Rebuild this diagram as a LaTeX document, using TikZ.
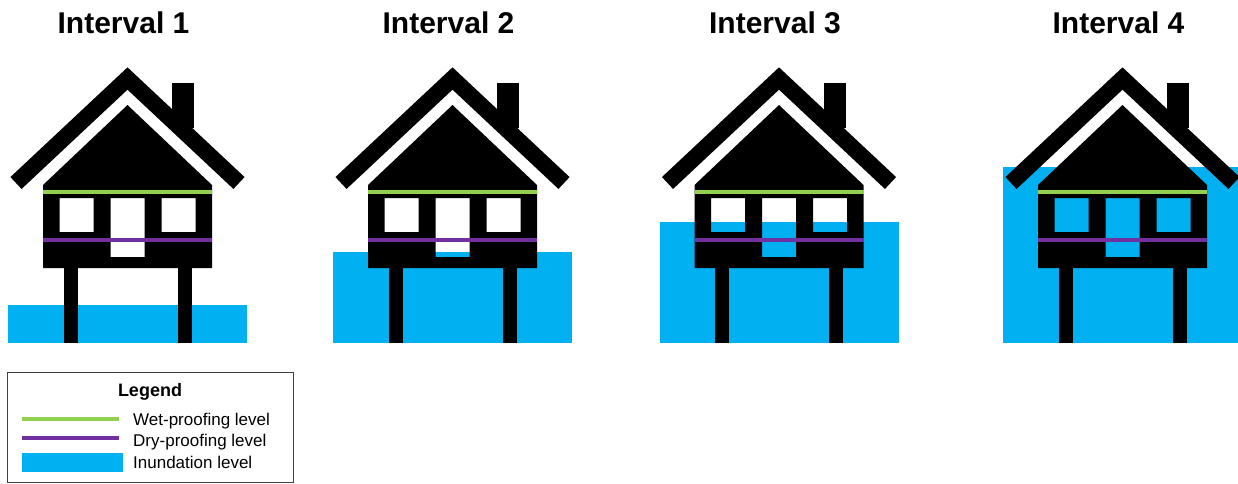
\documentclass[tikz,border=0pt]{standalone}
\usepackage{fontspec}
\setmainfont{Liberation Sans}
\definecolor{wetgreen}{HTML}{92D050}
\definecolor{drypurple}{HTML}{7030A0}
\definecolor{floodblue}{HTML}{00B0F0}

\begin{document}
\begin{tikzpicture}[x=1pt, y=-1pt, line join=miter,
  title/.style={font=\bfseries\fontsize{30}{36}\selectfont, anchor=base, inner sep=0pt},
  entry/.style={font=\fontsize{17}{20}\selectfont, anchor=base west, inner sep=0pt},
  level/.style={line width=4.5pt}]
\clip (0,0) rectangle (1238,483);
% one stilt house per interval: centre, water top, number
\foreach \cx/\wl/\n in {127.5/305/1, 452.5/252/2, 779/222/3, 1122.5/167/4} {
  % heading
  \node[title] (title\n) at (\cx-4,33) {Interval \n};
  % water sits behind the house
  \fill[floodblue] (\cx-119.5,\wl) rectangle (\cx+119.5,343);
  % chimney and roof
  \fill (\cx+44.5,83) rectangle (\cx+66.5,128);
  \draw[line width=16.3pt] (\cx-111.5,183) -- (\cx,78.5) -- (\cx+111.5,183);
  % body, windows and door left open
  \fill[even odd rule] (\cx-84.5,268) -- (\cx-84.5,185) -- (\cx,105) -- (\cx+84.5,185) -- (\cx+84.5,268) -- cycle
    (\cx-68,198) rectangle (\cx-34,232)
    (\cx-17,198) rectangle (\cx+17,257)
    (\cx+34,198) rectangle (\cx+68,232);
  % stilts
  \fill (\cx-64,268) rectangle (\cx-50,343);
  \fill (\cx+50,268) rectangle (\cx+64,343);
  % proofing levels
  \draw[level, wetgreen] (\cx-84.5,192) -- (\cx+84.5,192);
  \draw[level, drypurple] (\cx-84.5,240) -- (\cx+84.5,240);
}
% legend
\draw[black!75, line width=0.8pt] (7,372) rectangle (293,482);
\node[font=\bfseries\fontsize{18}{22}\selectfont, anchor=base, inner sep=0pt] (legend) at (150,396) {Legend};
\draw[wetgreen, line width=4pt] (22,419) -- (119,419);
\node[entry] (wet) at (133,425) {Wet-proofing level};
\draw[drypurple, line width=4pt] (22,438) -- (119,438);
\node[entry] (dry) at (133,446) {Dry-proofing level};
\fill[floodblue] (22,453) rectangle (123,472);
\node[entry] (flood) at (133,468) {Inundation level};
\end{tikzpicture}
\end{document}
